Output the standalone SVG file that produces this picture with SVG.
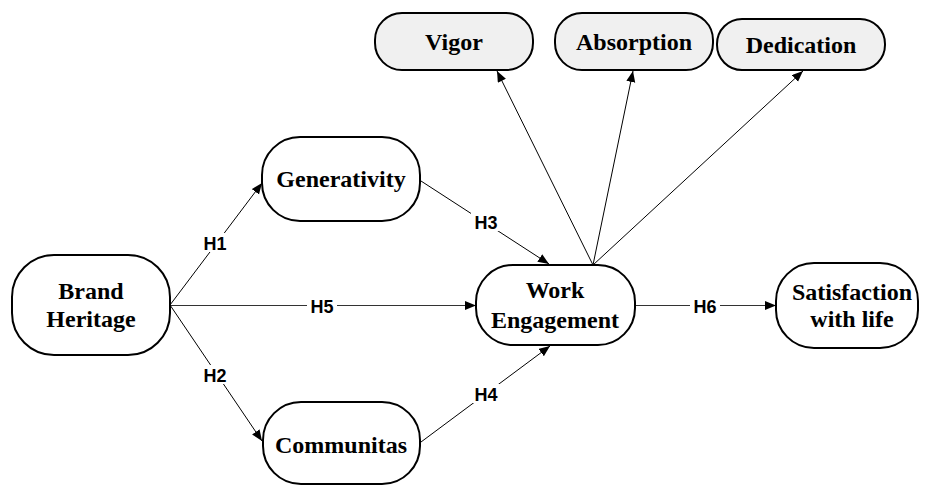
<svg xmlns="http://www.w3.org/2000/svg" width="927" height="486" viewBox="0 0 927 486">
<style>
.node{fill:#ffffff;stroke:#000;stroke-width:2}
.sub{fill:#f0f0f0;stroke:#000;stroke-width:2}
.t{font-weight:bold;font-size:24px;fill:#000;text-anchor:middle}
.lab{font-weight:bold;font-size:18px;fill:#000;text-anchor:middle}
.lb{fill:#fff;stroke:none}
.c{stroke:#000;stroke-width:1;fill:none;marker-end:url(#ah)}
.g{stroke:#333;stroke-width:1.2;fill:none;marker-end:url(#ah)}
</style>
<defs>
<marker id="ah" markerUnits="userSpaceOnUse" markerWidth="12" markerHeight="10" refX="11" refY="4.5" orient="auto">
<path d="M0,0 L11,4.5 L0,9 z" fill="#000"/>
</marker>
</defs>
<rect width="927" height="486" fill="#fff"/>
<g id="connectors">
<line class="c" x1="170" y1="305" x2="262" y2="183"/>
<line class="c" x1="170" y1="305" x2="262" y2="441"/>
<line class="g" x1="170" y1="305.5" x2="476" y2="305.5"/>
<line class="c" x1="421" y1="181" x2="549" y2="264"/>
<line class="c" x1="421" y1="442" x2="550" y2="346"/>
<line class="g" x1="635" y1="305.5" x2="776" y2="305.5"/>
<line class="c" x1="593" y1="265" x2="497" y2="71"/>
<line class="c" x1="593" y1="265" x2="633" y2="71"/>
<line class="c" x1="593" y1="265" x2="803" y2="71"/>
<g id="labels" font-family="Liberation Sans, Arial, sans-serif">
<rect class="lb" x="201" y="233" width="28" height="19"/>
<text class="lab" x="215" y="249.5">H1</text>
<rect class="lb" x="201" y="365" width="28" height="19"/>
<text class="lab" x="215" y="381.5">H2</text>
<rect class="lb" x="471" y="212" width="30" height="19"/>
<text class="lab" x="486" y="228.5">H3</text>
<rect class="lb" x="471" y="384" width="30" height="19"/>
<text class="lab" x="486" y="400.5">H4</text>
<rect class="lb" x="307" y="296" width="30" height="19"/>
<text class="lab" x="322" y="312.5">H5</text>
<rect class="lb" x="690" y="296" width="30" height="19"/>
<text class="lab" x="705" y="312.5">H6</text>
</g>
</g>
<g font-family="Liberation Serif, Times New Roman, serif">
<g id="brand-heritage">
<rect class="node" x="12" y="255" width="158" height="100" rx="42" ry="42"/>
<text class="t" x="91" y="299">Brand</text>
<text class="t" x="91" y="327">Heritage</text>
</g>
<g id="generativity">
<rect class="node" x="262" y="137" width="158" height="84" rx="38" ry="38"/>
<text class="t" x="341" y="187">Generativity</text>
</g>
<g id="communitas">
<rect class="node" x="263" y="402" width="157" height="82" rx="38" ry="38"/>
<text class="t" x="341" y="453">Communitas</text>
</g>
<g id="work-engagement">
<rect class="node" x="476" y="265" width="159" height="80" rx="37" ry="37"/>
<text class="t" x="555" y="298">Work</text>
<text class="t" x="555" y="328">Engagement</text>
</g>
<g id="satisfaction">
<rect class="node" x="776" y="263" width="142" height="85" rx="38" ry="38"/>
<text class="t" x="852" y="300">Satisfaction</text>
<text class="t" x="852" y="327">with life</text>
</g>
<g id="vigor">
<rect class="sub" x="375" y="13" width="158" height="57" rx="27" ry="27"/>
<text class="t" x="454" y="50">Vigor</text>
</g>
<g id="absorption">
<rect class="sub" x="555" y="13" width="158" height="57" rx="27" ry="27"/>
<text class="t" x="634" y="50">Absorption</text>
</g>
<g id="dedication">
<rect class="sub" x="717" y="19" width="168" height="51" rx="25" ry="25"/>
<text class="t" x="801" y="53">Dedication</text>
</g>
</g>
</svg>
